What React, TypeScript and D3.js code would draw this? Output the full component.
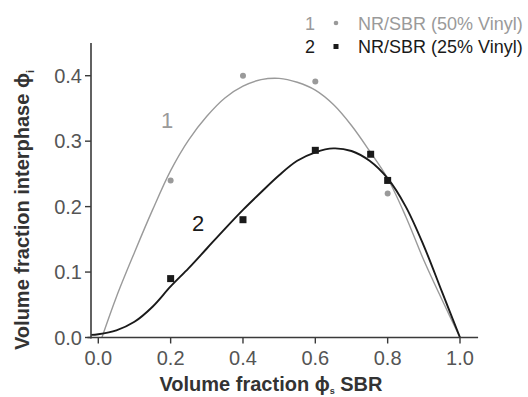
import React from "react";
import * as d3 from "d3";

const xTicks = [0.0, 0.2, 0.4, 0.6, 0.8, 1.0];
const yTicks = [0.0, 0.1, 0.2, 0.3, 0.4];

// Series 1: NR/SBR (50% Vinyl) measured points
const s1X = [0.2, 0.4, 0.6, 0.8];
const s1Y = [0.24, 0.4, 0.391, 0.22];
// Series 2: NR/SBR (25% Vinyl) measured points
const s2X = [0.2, 0.4, 0.6, 0.753, 0.8];
const s2Y = [0.09, 0.18, 0.286, 0.28, 0.24];

// Fitted curve 1 (gray)
const c1X = [0.01, 0.05, 0.1, 0.15, 0.2, 0.25, 0.3, 0.35, 0.4, 0.45, 0.5, 0.55, 0.6, 0.65, 0.7, 0.75, 0.8, 0.85, 0.9, 0.95, 1.0];
const c1Y = [0.0, 0.062, 0.13, 0.195, 0.255, 0.302, 0.338, 0.366, 0.384, 0.394, 0.396, 0.39, 0.378, 0.356, 0.324, 0.285, 0.243, 0.185, 0.118, 0.058, 0.0];
// Fitted curve 2 (black)
const c2X = [-0.02, 0.0, 0.05, 0.1, 0.15, 0.2, 0.25, 0.3, 0.35, 0.4, 0.45, 0.5, 0.55, 0.6, 0.65, 0.7, 0.75, 0.8, 0.85, 0.9, 0.95, 1.0];
const c2Y = [0.004, 0.005, 0.011, 0.024, 0.047, 0.078, 0.106, 0.136, 0.166, 0.195, 0.222, 0.248, 0.27, 0.283, 0.289, 0.285, 0.27, 0.243, 0.2, 0.14, 0.07, 0.0];

const legendLabels = ["NR/SBR (50% Vinyl)", "NR/SBR (25% Vinyl)"];
const curveLabels = ["1", "2"];

const GRAY = "#9a9a9a";
const BLACK = "#1a1a1a";
const AXIS = "#3a3a3a";
const TICKTXT = "#555";
const FONT = "'Liberation Sans', Arial, Helvetica, sans-serif";

export default function App() {
  const W = 528, H = 397;
  const x = d3.scaleLinear().domain([0, 1]).range([98.3, 460]);
  const y = d3.scaleLinear().domain([0, 0.45]).range([337.5, 43]);
  const line = d3
    .line<[number, number]>()
    .x((d) => x(d[0]))
    .y((d) => y(d[1]))
    .curve(d3.curveCatmullRom.alpha(0.5));
  const c1 = c1X.map((v, i) => [v, c1Y[i]] as [number, number]);
  const c2 = c2X.map((v, i) => [v, c2Y[i]] as [number, number]);
  const axisX = 91;
  const axisY = y(0);

  return (
    <svg
      width={W}
      height={H}
      style={{ position: "absolute", left: 0, top: 0, background: "#fff" }}
      fontFamily={FONT}
    >
      {/* curves */}
      <path d={line(c1) || ""} fill="none" stroke={GRAY} strokeWidth={1.4} />
      <path d={line(c2) || ""} fill="none" stroke={BLACK} strokeWidth={1.9} />

      {/* axes */}
      <line x1={axisX} x2={axisX} y1={43} y2={axisY + 1} stroke={AXIS} strokeWidth={1.6} />
      <line x1={x(-0.03)} x2={x(1.05)} y1={axisY} y2={axisY} stroke={AXIS} strokeWidth={1.6} />
      {xTicks.map((t) => (
        <g key={"xt" + t}>
          <line x1={x(t)} x2={x(t)} y1={axisY} y2={axisY + 6} stroke={AXIS} strokeWidth={1.4} />
          <text x={x(t)} y={365} textAnchor="middle" fontSize={20} fill={TICKTXT}>
            {t.toFixed(1)}
          </text>
        </g>
      ))}
      {yTicks.map((t) => (
        <g key={"yt" + t}>
          <line x1={axisX - 6} x2={axisX} y1={y(t)} y2={y(t)} stroke={AXIS} strokeWidth={1.4} />
          <text x={82} y={y(t) + 7} textAnchor="end" fontSize={20} fill={TICKTXT}>
            {t.toFixed(1)}
          </text>
        </g>
      ))}

      {/* data points */}
      {s1X.map((v, i) => (
        <circle key={"p1" + i} cx={x(v)} cy={y(s1Y[i])} r={3} fill={GRAY} />
      ))}
      {s2X.map((v, i) => (
        <rect key={"p2" + i} x={x(v) - 3.5} y={y(s2Y[i]) - 3.5} width={7} height={7} fill={BLACK} />
      ))}

      {/* curve labels */}
      <text x={167} y={128} textAnchor="middle" fontSize={22} fill={GRAY}>
        {curveLabels[0]}
      </text>
      <text x={198} y={231} textAnchor="middle" fontSize={22} fill={BLACK}>
        {curveLabels[1]}
      </text>

      {/* legend */}
      <text x={310} y={29.5} textAnchor="middle" fontSize={18} fill={GRAY}>{curveLabels[0]}</text>
      <circle cx={336} cy={23} r={2.3} fill={GRAY} />
      <text x={358} y={29.5} fontSize={18} fill={GRAY}>{legendLabels[0]}</text>
      <text x={310} y={53} textAnchor="middle" fontSize={18} fill={BLACK}>{curveLabels[1]}</text>
      <rect x={333.5} y={44} width={5} height={5} fill={BLACK} />
      <text x={358} y={53} fontSize={18} fill={BLACK}>{legendLabels[1]}</text>

      {/* axis titles */}
      <text x={271} y={391} textAnchor="middle" fontSize={20} fontWeight="bold" fill="#333">
        Volume fraction ϕ
        <tspan fontSize={9} dy={3}>s</tspan>
        <tspan dy={-3}> SBR</tspan>
      </text>
      <text
        transform="translate(29,210) rotate(-90)"
        textAnchor="middle"
        fontSize={20}
        fontWeight="bold"
        fill="#333"
      >
        Volume fraction interphase ϕ
        <tspan fontSize={11} dy={5}>i</tspan>
      </text>
    </svg>
  );
}
